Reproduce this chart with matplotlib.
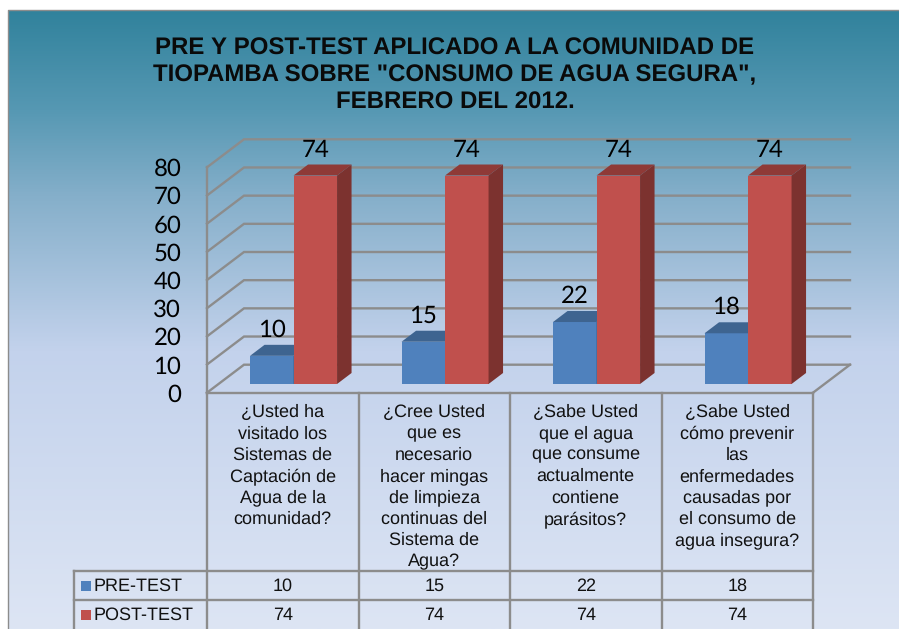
import numpy as np
import matplotlib.pyplot as plt
from matplotlib.colors import LinearSegmentedColormap

plt.rcParams['text.hinting'] = 'no_hinting'
plt.rcParams['text.hinting_factor'] = 1

title = 'PRE Y POST-TEST APLICADO A LA COMUNIDAD DE\nTIOPAMBA SOBRE "CONSUMO DE AGUA SEGURA",\nFEBRERO DEL 2012.'
categories = [
    '¿Usted ha\nvisitado los\nSistemas de\nCaptación de\nAgua de la\ncomunidad?',
    '¿Cree Usted\nque es\nnecesario\nhacer mingas\nde limpieza\ncontinuas del\nSistema de\nAgua?',
    '¿Sabe Usted\nque el agua\nque consume\nactualmente\ncontiene\nparásitos?',
    '¿Sabe Usted\ncómo prevenir\nlas\nenfermedades\ncausadas por\nel consumo de\nagua insegura?',
]
pre_test = [10, 15, 22, 18]
post_test = [74, 74, 74, 74]
yticks = list(range(0, 90, 10))

GRID = '#8c8c8c'
W, H = 899, 629
fig = plt.figure(figsize=(W / 100, H / 100), dpi=100)

# background gradient, in pixels
bg = fig.add_axes([0, 0, 1, 1])
bg.axis('off')
cmap = LinearSegmentedColormap.from_list('bg', [
    (0.0, '#31829c'), (0.16, '#5698b3'), (0.30, '#85afca'),
    (0.55, '#c3d2ec'), (1.0, '#dde5f4')])
bg.imshow(np.linspace(0, 1, 256).reshape(-1, 1), cmap=cmap, aspect='auto',
          extent=(8, W, H, 10), zorder=0)
bg.set_xlim(0, W)
bg.set_ylim(H, 0)
bg.plot([8, 8, W], [H, 10, 10], color=GRID, lw=1.0, zorder=1)
bg.text(455, 75.5, title, ha='center', va='center', fontsize=17.4, fontweight='bold',
        family='Liberation Sans', linespacing=1.27, color='#0a0a0a')

# main axes = front plane of the 3d chart
left, right, bottom, top = 207, 813, 392.7, 167.3
ax = fig.add_axes([left / W, 1 - bottom / H, (right - left) / W, (bottom - top) / H])
ax.patch.set_visible(False)
ax.set_xlim(0, len(categories))
ax.set_ylim(0, 80)
for s in ax.spines.values():
    s.set_visible(False)
ax.set_xticks([])
ax.set_yticks(yticks)
ax.tick_params(axis='y', length=0, pad=18.5, labelsize=17)
for lab in ax.get_yticklabels():
    lab.set_family('Lato')

px_x = len(categories) / (right - left)
px_y = 80 / (bottom - top)
wall_dx, wall_dy = 37 * px_x, 28 * px_y
n = len(categories)
LW = 1.7

# walls and grid
for v in yticks:
    ax.plot([0, wall_dx, n + wall_dx], [v, v + wall_dy, v + wall_dy], color=GRID, lw=LW,
            clip_on=False, zorder=1, solid_joinstyle='miter')
ax.plot([0, 0], [0, 80], color=GRID, lw=LW, clip_on=False, zorder=1)
ax.plot([n, n + wall_dx], [0, wall_dy], color=GRID, lw=LW, clip_on=False, zorder=1)

# bars
bar_w = 43.5 * px_x
base = 8.7 * px_y
shift = 10.8 * px_x
depth_x, depth_y = 14.5 * px_x, 11 * px_y
x = np.arange(n) + 0.5 + shift


def draw_bar(x0, v, front, topc, side, z):
    ax.bar(x0, v, bar_w, bottom=base, color=front, clip_on=False, zorder=z, align='edge')
    h = base + v
    ax.fill([x0, x0 + bar_w, x0 + bar_w + depth_x, x0 + depth_x],
            [h, h, h + depth_y, h + depth_y], color=topc, lw=0, clip_on=False, zorder=z)
    ax.fill([x0 + bar_w, x0 + bar_w + depth_x, x0 + bar_w + depth_x, x0 + bar_w],
            [base, base + depth_y, h + depth_y, h], color=side, lw=0, clip_on=False, zorder=z)


for i in range(n):
    draw_bar(x[i] - bar_w, pre_test[i], '#4f81bd', '#3e6490', '#3a5f8a', 3 + i)
    draw_bar(x[i], post_test[i], '#c0504d', '#8f3a37', '#7c322f', 3 + i + 0.5)
    ax.text(x[i] - bar_w / 2, base + pre_test[i] + 9.3, str(pre_test[i]), ha='center', va='center',
            fontsize=17, family='Lato', zorder=10)
    ax.text(x[i] + bar_w / 2, base + post_test[i] + 9.0, str(post_test[i]), ha='center', va='center',
            fontsize=17, family='Lato', zorder=10)

# data table under the chart
row1, row2, row_end = (392.7 - 571) * px_y, (392.7 - 600.5) * px_y, (392.7 - 629) * px_y
leg_x = (74 - left) * px_x
for i in range(n + 1):
    ax.plot([i, i], [0, row_end], color=GRID, lw=LW, clip_on=False, zorder=1)
ax.plot([0, n], [0, 0], color=GRID, lw=LW, clip_on=False, zorder=2)
ax.plot([leg_x, n], [row1, row1], color=GRID, lw=LW, clip_on=False, zorder=1)
ax.plot([leg_x, n], [row2, row2], color=GRID, lw=LW, clip_on=False, zorder=1)
ax.plot([leg_x, leg_x], [row1, row_end], color=GRID, lw=LW, clip_on=False, zorder=1)

tfont = dict(family='Liberation Sans', fontsize=13.3, color='#111111', clip_on=False)
for i, c in enumerate(categories):
    ax.text(i + 0.5, (392.7 - 404) * px_y, c, ha='center', va='top', linespacing=1.35, **tfont)
    ax.text(i + 0.5, (392.7 - 586.5) * px_y, str(pre_test[i]), ha='center', va='center', **tfont)
    ax.text(i + 0.5, (392.7 - 615.5) * px_y, str(post_test[i]), ha='center', va='center', **tfont)

leg_names = ['PRE-TEST', 'POST-TEST']
leg_colors = ['#4f81bd', '#c0504d']
for name, col, py in zip(leg_names, leg_colors, [586, 615]):
    bg.fill([81, 91, 91, 81], [py - 5, py - 5, py + 5, py + 5], color=col, lw=0, zorder=2)
    bg.text(94, py, name, ha='left', va='center', **tfont)

fig.savefig('out.png', dpi=100)
